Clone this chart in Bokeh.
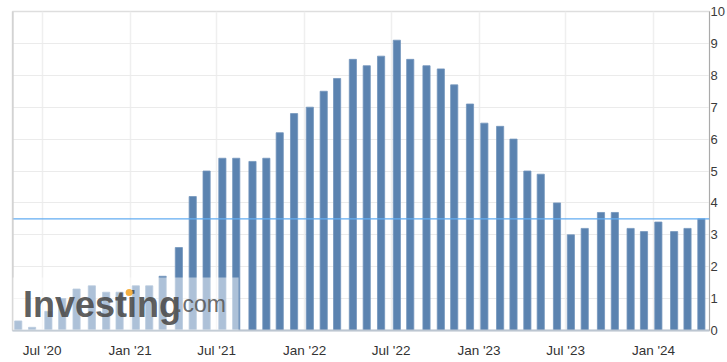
import pandas as pd
from bokeh.plotting import figure
from bokeh.models import (FixedTicker, DatetimeTickFormatter, Span, BoxAnnotation,
                          Label, Range1d, ColumnDataSource)
from bokeh.embed import file_html
from bokeh.resources import INLINE

# ---- data (US CPI YoY %, plotted at release dates) ----
release_dates = [
    "2020-05-12", "2020-06-10", "2020-07-14", "2020-08-12", "2020-09-11", "2020-10-13",
    "2020-11-12", "2020-12-10", "2021-01-13", "2021-02-10", "2021-03-10", "2021-04-13",
    "2021-05-12", "2021-06-10", "2021-07-13", "2021-08-11", "2021-09-14", "2021-10-13",
    "2021-11-10", "2021-12-10", "2022-01-12", "2022-02-10", "2022-03-10", "2022-04-12",
    "2022-05-11", "2022-06-10", "2022-07-13", "2022-08-10", "2022-09-13", "2022-10-13",
    "2022-11-10", "2022-12-13", "2023-01-12", "2023-02-14", "2023-03-14", "2023-04-12",
    "2023-05-10", "2023-06-13", "2023-07-12", "2023-08-10", "2023-09-13", "2023-10-12",
    "2023-11-14", "2023-12-12", "2024-01-11", "2024-02-13", "2024-03-12", "2024-04-10",
]
cpi_yoy = [
    0.3, 0.1, 0.6, 1.0, 1.3, 1.4, 1.2, 1.2, 1.4, 1.4, 1.7, 2.6,
    4.2, 5.0, 5.4, 5.4, 5.3, 5.4, 6.2, 6.8, 7.0, 7.5, 7.9, 8.5,
    8.3, 8.6, 9.1, 8.5, 8.3, 8.2, 7.7, 7.1, 6.5, 6.4, 6.0, 5.0,
    4.9, 4.0, 3.0, 3.2, 3.7, 3.7, 3.2, 3.1, 3.4, 3.1, 3.2, 3.5,
]
tick_dates = ["2020-07-01", "2021-01-01", "2021-07-01", "2022-01-01",
              "2022-07-01", "2023-01-01", "2023-07-01", "2024-01-01"]
y_ticks = [0, 1, 2, 3, 4, 5, 6, 7, 8, 9, 10]


def ms(d):
    return pd.Timestamp(d).value / 1e6


DAY = 86400000
src = ColumnDataSource(dict(date=[ms(d) for d in release_dates], value=cpi_yoy))

x_start, x_end = ms("2020-04-30"), ms("2024-04-27")

p = figure(width=727, height=362, x_axis_type="datetime", y_axis_location="right",
           x_range=Range1d(x_start, x_end), y_range=Range1d(0, 10),
           output_backend="svg", toolbar_location=None,
           min_border_left=12, min_border_top=11, min_border_right=0, min_border_bottom=32,
           background_fill_color="white", border_fill_color="white")

p.outline_line_color = "#dedede"
p.outline_line_width = 1.5

# grids
p.xgrid.ticker = FixedTicker(ticks=[ms(d) for d in tick_dates])
p.xgrid.grid_line_color = "#efefef"
p.xgrid.grid_line_width = 1.5
p.ygrid.ticker = FixedTicker(ticks=y_ticks)
p.ygrid.grid_line_color = "#ebebeb"
p.ygrid.grid_line_width = 1

# bars
p.vbar(x="date", top="value", width=15 * DAY, source=src,
       fill_color="#5b83b0", line_color="#7496bd", line_width=0.8)

# latest value line
p.add_layout(Span(location=cpi_yoy[-1], dimension="width",
                  line_color="#62acf2", line_width=1.4))

# left border
p.add_layout(Span(location=x_start, dimension="height",
                  line_color="#c8c8c8", line_width=2))

# x axis
xa = p.xaxis[0]
xa.ticker = FixedTicker(ticks=[ms(d) for d in tick_dates])
fmt = "%b '%y"
xa.formatter = DatetimeTickFormatter(milliseconds=fmt, seconds=fmt, minsec=fmt, minutes=fmt,
                                     hourmin=fmt, hours=fmt, days=fmt, months=fmt, years=fmt)
xa.axis_line_color = "#bcc6d1"
xa.axis_line_width = 2
xa.major_tick_line_color = None
xa.minor_tick_line_color = None
xa.major_tick_out = 0
xa.major_tick_in = 0
xa.minor_tick_out = 0
xa.minor_tick_in = 0
xa.major_label_standoff = 12
xa.major_label_text_font = "Liberation Sans"
xa.major_label_text_font_size = "13.5px"
xa.major_label_text_color = "#333333"

# y axis
ya = p.yaxis[0]
ya.ticker = FixedTicker(ticks=y_ticks)
ya.axis_line_color = "#aaaaaa"
ya.axis_line_width = 1
ya.major_tick_line_color = None
ya.minor_tick_line_color = None
ya.major_tick_out = 0
ya.major_tick_in = 0
ya.minor_tick_out = 0
ya.minor_tick_in = 0
ya.major_label_standoff = 1
ya.major_label_text_font = "Liberation Sans"
ya.major_label_text_font_size = "13px"
ya.major_label_text_color = "#3a3a3a"

# watermark
p.add_layout(BoxAnnotation(left=x_start, right=ms("2021-08-16"), bottom=0, top=1.66,
                           fill_color="white", fill_alpha=0.5, line_color=None))
p.add_layout(Label(x=ms("2020-05-22"), y=0.83, text="Investing",
                   text_font="Liberation Sans", text_font_style="bold",
                   text_font_size="36px", text_color="#4a4a4a", text_alpha=0.9,
                   text_baseline="alphabetic"))
p.add_layout(Label(x=ms("2021-04-07"), y=0.83, text=".com",
                   text_font="Liberation Sans", text_font_size="23px",
                   text_color="#5a5a5a", text_alpha=0.9, text_baseline="alphabetic"))
p.scatter(x=[ms("2020-12-30")], y=[1.19], size=7, marker="circle",
          fill_color="#f5b041", line_color=None, level="overlay")

open("out.html", "w").write(file_html(p, INLINE))
